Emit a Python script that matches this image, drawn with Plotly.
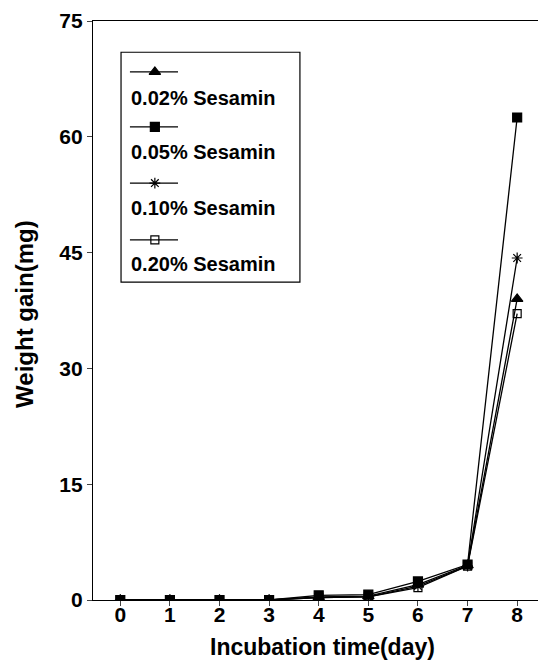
import plotly.graph_objects as go

days = [0, 1, 2, 3, 4, 5, 6, 7, 8]
s002 = [0, 0, 0, 0, 0.4, 0.5, 2.0, 4.5, 39.0]
s005 = [0, 0, 0, 0, 0.6, 0.7, 2.4, 4.6, 62.5]
s010 = [0, 0, 0, 0, 0.3, 0.4, 1.8, 4.4, 44.3]
s020 = [0, 0, 0, 0, 0.3, 0.4, 1.6, 4.4, 37.1]

labels = ["0.02% Sesamin", "0.05% Sesamin", "0.10% Sesamin", "0.20% Sesamin"]
series = [s002, s005, s010, s020]
symbols = ["triangle-up", "square", "asterisk-open", "square-open"]
sizes = [10, 9, 9, 8]

FONT = "Liberation Sans"

fig = go.Figure()
for lab, ys, sym, sz in zip(labels, series, symbols, sizes):
    fig.add_trace(go.Scatter(
        x=days, y=ys, mode="lines+markers", name=lab, showlegend=False,
        line=dict(color="black", width=1.3),
        marker=dict(symbol=sym, size=sz, color="black",
                    line=dict(color="black", width=1.2)),
    ))

# custom legend (line + marker above, text below)
leg_sym_y = [0.912, 0.817, 0.720, 0.622]
leg_txt_y = [0.867, 0.774, 0.677, 0.580]
for lab, sym, sz, sy, ty in zip(labels, symbols, sizes, leg_sym_y, leg_txt_y):
    fig.add_trace(go.Scatter(
        x=[0.083, 0.191], y=[sy, sy], mode="lines", xaxis="x2", yaxis="y2",
        line=dict(color="black", width=1.3), showlegend=False, hoverinfo="skip"))
    fig.add_trace(go.Scatter(
        x=[0.139], y=[sy], mode="markers", xaxis="x2", yaxis="y2",
        marker=dict(symbol=sym, size=sz, color="black",
                    line=dict(color="black", width=1.2)),
        showlegend=False, hoverinfo="skip"))
    fig.add_annotation(x=0.082, y=ty, xref="paper", yref="paper", text=lab,
                       showarrow=False, xanchor="left", yanchor="middle",
                       font=dict(family=FONT, size=20, color="black", weight="bold"))

fig.add_shape(type="rect", xref="paper", yref="paper", x0=0.063, x1=0.465,
              y0=0.549, y1=0.946, line=dict(color="black", width=1.2))

# axis titles
fig.add_annotation(x=0.515, y=-0.081, xref="paper", yref="paper",
                   text="Incubation time(day)", showarrow=False,
                   xanchor="center", yanchor="middle",
                   font=dict(family=FONT, size=23, color="black", weight="bold"))
fig.add_annotation(x=-0.153, y=0.494, xref="paper", yref="paper",
                   text="Weight gain(mg)", showarrow=False, textangle=-90,
                   xanchor="center", yanchor="middle",
                   font=dict(family=FONT, size=24, color="black", weight="bold"))

fig.update_layout(
    width=546, height=663,
    margin=dict(l=85, r=16, t=13, b=71),
    paper_bgcolor="white", plot_bgcolor="white",
    font=dict(family=FONT, size=21, color="black", weight="bold"),
    xaxis=dict(range=[-0.55, 8.42], tickvals=days, ticks="outside", ticklen=5,
               ticklabelstandoff=-9,
               showline=True, linecolor="black", linewidth=1.3, mirror=True,
               showgrid=False, zeroline=False, automargin=False),
    yaxis=dict(range=[0, 75], tickvals=[0, 15, 30, 45, 60, 75], ticks="outside",
               ticklen=5, ticklabeloverflow="allow",
               showline=True, linecolor="black", linewidth=1.3, mirror=True,
               showgrid=False, zeroline=False, automargin=False),
    xaxis2=dict(range=[0, 1], overlaying="x", visible=False, fixedrange=True),
    yaxis2=dict(range=[0, 1], overlaying="y", visible=False, fixedrange=True),
)

fig.write_html("out.html")
